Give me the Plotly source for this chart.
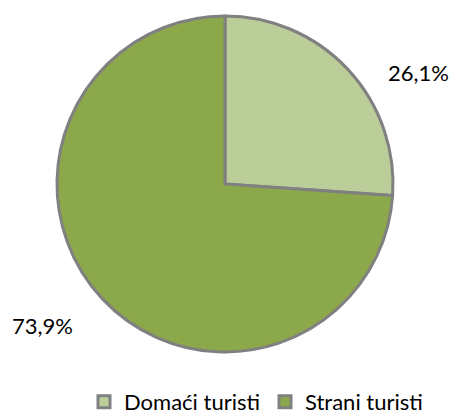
import plotly.graph_objects as go

labels = ["Domaći turisti", "Strani turisti"]
values = [26.1, 73.9]
colors = ["#BBCE99", "#8BA84B"]
label_text = ["26,1%", "73,9%"]

fig = go.Figure(go.Pie(
    labels=labels, values=values, sort=False, direction="clockwise", rotation=0,
    marker=dict(colors=colors, line=dict(color="#808080", width=3)),
    textinfo="none", hoverinfo="label+percent",
    domain=dict(x=[57/449, 393/449], y=[1-352/419, 1-16/419]),
))

fig.add_annotation(x=418/449, y=1-73/419, xref="paper", yref="paper", text=label_text[0],
                   xanchor="center", yanchor="middle",
                   showarrow=False, font=dict(size=22, color="#000"))
fig.add_annotation(x=42/449, y=1-325/419, xref="paper", yref="paper", text=label_text[1],
                   xanchor="center", yanchor="middle",
                   showarrow=False, font=dict(size=22, color="#000"))

fig.update_layout(
    width=449, height=419, margin=dict(l=0, r=0, t=0, b=0, autoexpand=False),
    paper_bgcolor="white", plot_bgcolor="white",
    font=dict(family="Lato, Noto Sans, sans-serif", size=22, color="#000"),
    legend=dict(orientation="h", x=256/449, xanchor="center", y=1-402/419, yanchor="middle",
                font=dict(size=22), itemwidth=30, tracegroupgap=0),
)
fig.write_html("out.html", config={"displayModeBar": False},
               post_script="document.body.style.margin='0';")
